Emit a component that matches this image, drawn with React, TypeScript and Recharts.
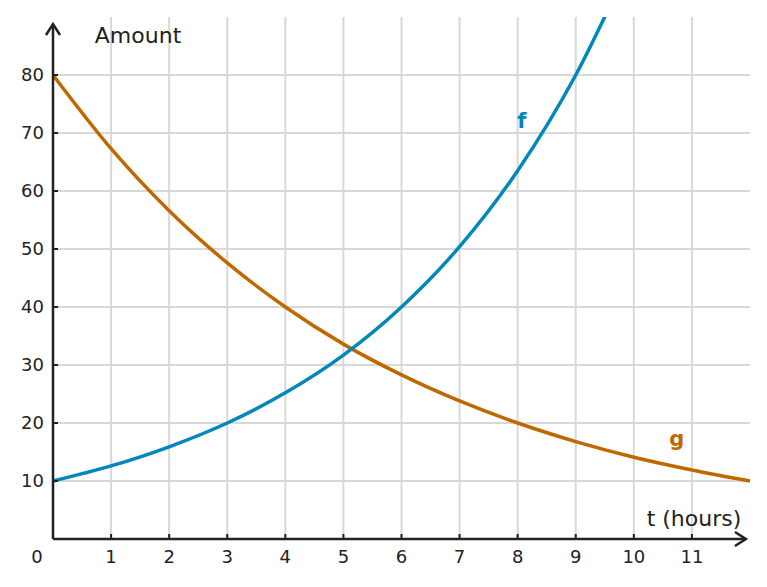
import {
  CartesianGrid,
  Line,
  LineChart,
  ReferenceDot,
  ReferenceLine,
  XAxis,
  YAxis
} from 'recharts';

const hours = [0, 1, 2, 3, 4, 5, 6, 7, 8, 9, 10, 11, 12];
const fValues = [10, 12.6, 15.9, 20, 25.2, 31.7, 40, 50.4, 63.5, 80, 100.8, null, null];
const gValues = [80, 67.3, 56.6, 47.6, 40, 33.6, 28.3, 23.8, 20, 16.8, 14.1, 11.9, 10];
const xTicks = [0, 1, 2, 3, 4, 5, 6, 7, 8, 9, 10, 11];
const yTicks = [10, 20, 30, 40, 50, 60, 70, 80];
const X_MAX = 12;
const Y_MAX = 90;

const BLUE = '#0088bb';
const ORANGE = '#c06800';
const INK = '#222222';
const FONT = '"DejaVu Sans", sans-serif';

const data = hours.map((t, i) => ({ t, f: fValues[i], g: gValues[i] }));

function XTick({ x, y, payload }: any) {
  const v = payload.value;
  return (
    <g>
      {v !== 0 && <line x1={x} x2={x} y1={y} y2={y - 5} stroke={INK} strokeWidth={2} />}
      <text x={v === 0 ? x - 16 : x} y={y + 24} textAnchor="middle" fontSize={18} fontFamily={FONT} fill={INK}>
        {v}
      </text>
    </g>
  );
}

function YTick({ x, y, payload }: any) {
  return (
    <g>
      <line x1={x} x2={x + 5} y1={y} y2={y} stroke={INK} strokeWidth={2} />
      <text x={x - 9} y={y + 6} textAnchor="end" fontSize={18} fontFamily={FONT} fill={INK}>
        {payload.value}
      </text>
    </g>
  );
}

const textShape = (label: string, opts: any) => (p: any) => (
  <text x={p.cx} y={p.cy} fontFamily={FONT} {...opts}>
    {label}
  </text>
);

// grid only at the labelled ticks, no frame at the top/right edges
const applyScale = (axis: any, v: number, fallback: number) => {
  const s = axis?.scale;
  if (typeof s === 'function') return s(v);
  if (s && typeof s.map === 'function') return s.map(v);
  return fallback;
};
const vGrid = ({ xAxis, offset }: any) =>
  xTicks
    .filter((v) => v > 0)
    .map((v) => applyScale(xAxis, v, offset.left + (offset.width * v) / X_MAX));
const hGrid = ({ yAxis, offset }: any) =>
  yTicks.map((v) => applyScale(yAxis, v, offset.top + offset.height * (1 - v / Y_MAX)));

export default function App() {
  return (
    <div style={{ position: 'absolute', left: 0, top: 0, background: '#fff' }}>
      <LineChart width={767} height={587} data={data} margin={{ top: 17, right: 17, left: 13, bottom: 18 }}>
        <defs>
          <marker
            id="arrow"
            markerUnits="userSpaceOnUse"
            markerWidth={16}
            markerHeight={18}
            viewBox="0 0 16 18"
            refX={13}
            refY={9}
            orient="auto"
          >
            <path d="M2,2 L13,9 L2,16" fill="none" stroke={INK} strokeWidth={2.5} />
          </marker>
        </defs>
        <CartesianGrid
          stroke="#d8d8d8"
          strokeWidth={2}
          verticalCoordinatesGenerator={vGrid}
          horizontalCoordinatesGenerator={hGrid}
        />
        <XAxis
          dataKey="t"
          type="number"
          domain={[0, X_MAX]}
          ticks={xTicks}
          axisLine={false}
          tickLine={false}
          tickSize={0}
          tickMargin={0}
          height={30}
          tick={<XTick />}
          interval={0}
        />
        <YAxis
          type="number"
          domain={[0, Y_MAX]}
          allowDataOverflow
          ticks={yTicks}
          axisLine={false}
          tickLine={false}
          tickSize={0}
          tickMargin={0}
          width={40}
          tick={<YTick />}
          interval={0}
        />
        <Line type="monotone" dataKey="g" stroke={ORANGE} strokeWidth={3.5} dot={false} isAnimationActive={false} />
        <Line type="monotone" dataKey="f" stroke={BLUE} strokeWidth={3.5} dot={false} isAnimationActive={false} connectNulls={false} />
        <ReferenceLine
          segment={[{ x: 0, y: 0 }, { x: 11.93, y: 0 }]}
          stroke={INK}
          strokeWidth={2.5}
          markerEnd="url(#arrow)"
          ifOverflow="visible"
        />
        <ReferenceLine
          segment={[{ x: 0, y: 0 }, { x: 0, y: 88.8 }]}
          stroke={INK}
          strokeWidth={2.5}
          markerEnd="url(#arrow)"
          ifOverflow="visible"
        />
        <ReferenceDot x={0.72} y={85.6} r={0} ifOverflow="visible" shape={textShape('Amount', { fontSize: 22, fill: INK, textAnchor: 'start' })} />
        <ReferenceDot x={11.85} y={2.24} r={0} ifOverflow="visible" shape={textShape('t (hours)', { fontSize: 22, fill: INK, textAnchor: 'end' })} />
        <ReferenceDot x={8.07} y={70.9} r={0} ifOverflow="visible" shape={textShape('f', { fontSize: 21, fill: BLUE, fontWeight: 'bold', textAnchor: 'middle' })} />
        <ReferenceDot x={10.74} y={16} r={0} ifOverflow="visible" shape={textShape('g', { fontSize: 21, fill: ORANGE, fontWeight: 'bold', textAnchor: 'middle' })} />
      </LineChart>
    </div>
  );
}
